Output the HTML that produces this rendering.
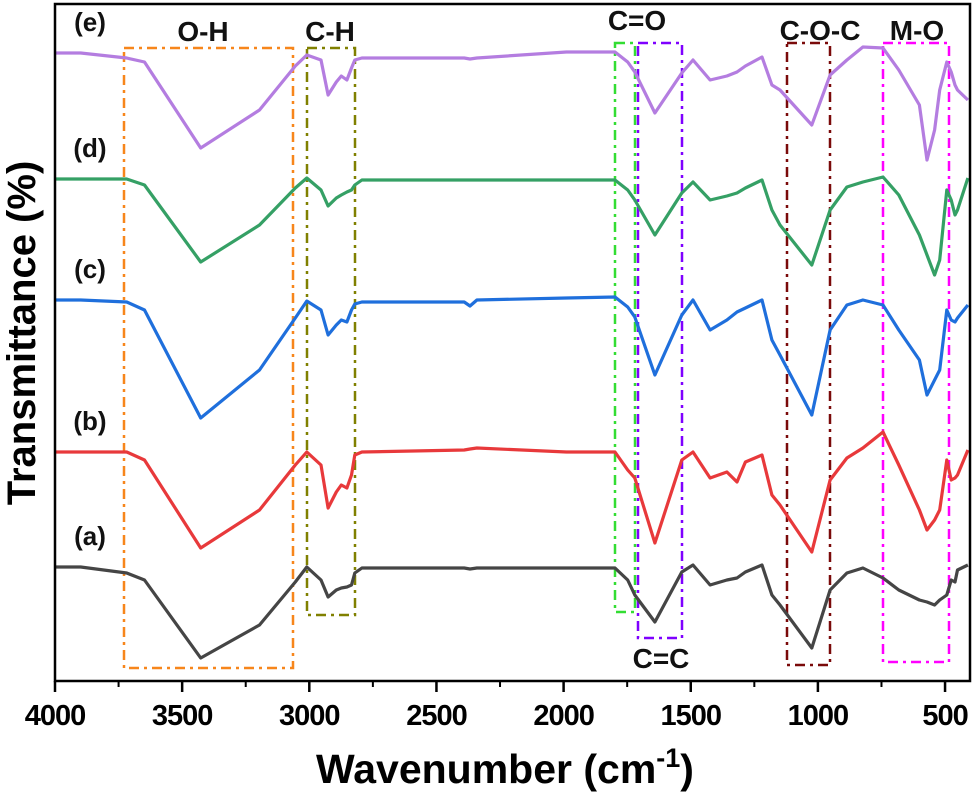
<!DOCTYPE html>
<html><head><meta charset="utf-8"><style>
html,body{margin:0;padding:0;background:#fff;}
svg{display:block;font-family:"Liberation Sans",Arial,sans-serif;font-weight:bold;}
</style></head><body>
<svg id="chart" width="975" height="795" viewBox="0 0 975 795">
<g id="boxes"></g><g id="series"></g><g id="axes"></g><g id="labels"></g>
</svg>
<script>
const wavenumbers = [4000,3899,3718,3648,3427,3196,3055,3010,2954,2926,2894,2874,2852,2834,2821,2793,2391,2368,2341,1989,1798,1748,1720,1641,1535,1491,1424,1358,1318,1285,1220,1181,1149,1024,952,886,823,744,682,601,571,541,521,493,476,461,451,410];
const seriesE = [627,627,622,618,532,570,614,625,620,585,598,604,600,612,620,622,622,621,622,628,628,618,608,567,607,620,600,604,608,614,623,595,590,555,605,620,633,632,610,575,520,550,590,618,608,595,590,580];
const seriesD = [501,501,501,495,418,455,492,502,490,474,482,485,488,490,495,500,500,500,500,500,500,490,480,445,487,498,480,484,487,492,500,470,455,415,470,493,498,503,485,445,425,405,420,490,480,465,470,502];
const seriesC = [380,380,378,370,262,310,362,379,370,345,355,360,358,370,376,378,378,374,380,382,383,373,363,305,365,380,350,360,368,372,380,340,325,265,350,375,380,375,350,320,285,300,310,370,360,358,362,375];
const seriesB = [228,228,228,220,132,170,215,228,215,172,188,195,192,205,225,228,230,231,232,228,228,210,202,137,220,228,202,208,198,218,225,185,175,128,200,222,232,248,215,170,150,160,170,220,200,202,205,230];
const seriesA = [113,113,107,100,22,55,98,113,100,83,90,92,93,95,107,112,112,111,112,112,112,100,85,58,108,115,95,100,102,108,115,85,75,32,90,107,112,102,90,80,78,75,80,85,100,98,110,115];
const seriesColors = ["#b47de0","#35a065","#1f6fdc","#e8393b","#454545"];
const seriesLabels = ["(e)","(d)","(c)","(b)","(a)"];
const xTicks = [4000,3500,3000,2500,2000,1500,1000,500];
const xMinor = [3750,3250,2750,2250,1750,1250,750];

const L=55,R=970,T=4,B=681;
const xs = w => L + (4000-w)*0.2543;
const ys = v => 680 - v;
const NS="http://www.w3.org/2000/svg";
function mk(tag,attrs,parent){const e=document.createElementNS(NS,tag);for(const k in attrs)e.setAttribute(k,attrs[k]);parent.appendChild(e);return e;}

const gS=document.getElementById('series');
[seriesE,seriesD,seriesC,seriesB,seriesA].forEach((s,i)=>{
  const pts=s.map((v,j)=>xs(wavenumbers[j]).toFixed(1)+","+ys(v).toFixed(1)).join(" ");
  const p=mk('polyline',{points:pts,fill:'none',stroke:seriesColors[i],'stroke-width':3.2,'stroke-linejoin':'round'},gS);
  
  
  const t=mk('text',{x:90,y:ys(s[0])-22,'font-size':26,'text-anchor':'middle',fill:'#111'},gS);
  t.textContent=seriesLabels[i];
  
  
});

const gB=document.getElementById('boxes');
const boxes=[
 {n:'oh',x1:124,x2:293,y1:48,y2:668,c:'#f7861b',l:'O-H',lx:203,ly:41},
 {n:'ch',x1:307,x2:355,y1:48,y2:615,c:'#808000',l:'C-H',lx:330,ly:41},
 {n:'co',x1:615,x2:635,y1:43,y2:612,c:'#33dd33',l:'C=O',lx:637,ly:30},
 {n:'cc',x1:638,x2:682,y1:43,y2:638,c:'#7f00ff',l:'C=C',lx:661,ly:668},
 {n:'coc',x1:787,x2:830,y1:43,y2:665,c:'#7a0a0a',l:'C-O-C',lx:820,ly:40},
 {n:'mo',x1:883,x2:949,y1:43,y2:662,c:'#ff00ff',l:'M-O',lx:917,ly:40}];
boxes.forEach(b=>{
  const r=mk('rect',{x:b.x1,y:b.y1,width:b.x2-b.x1,height:b.y2-b.y1,fill:'none',stroke:b.c,'stroke-width':2.5,'stroke-dasharray':'10 5 3 5'},gB);
  
  
  const t=mk('text',{x:b.lx,y:b.ly,'font-size':28,'text-anchor':'middle',fill:'#111'},document.getElementById('labels'));
  t.textContent=b.l;
  
  
});

const gA=document.getElementById('axes');
const fr=mk('rect',{x:L,y:T,width:R-L,height:B-T,fill:'none',stroke:'#000','stroke-width':2.5},gA);


xTicks.forEach(w=>{
  mk('line',{x1:xs(w),x2:xs(w),y1:B,y2:B+11,stroke:'#000','stroke-width':2.5},gA);
  const t=mk('text',{x:xs(w),y:725,'font-size':29,'text-anchor':'middle',fill:'#000','letter-spacing':'-1'},gA);
  t.textContent=w;
  
  
});
xMinor.forEach(w=>mk('line',{x1:xs(w),x2:xs(w),y1:B,y2:B+6,stroke:'#000','stroke-width':2},gA));

(function(){
 const svg=document.getElementById('chart');
 const t=document.createElementNS(NS,'text');
 t.setAttribute('x','505');t.setAttribute('y','783');t.setAttribute('font-size','41');t.setAttribute('text-anchor','middle');
 
 
 t.innerHTML='Wavenumber (cm<tspan dy="-16" font-size="27">-1</tspan><tspan dy="16">)</tspan>';
 svg.appendChild(t);
 const y=document.createElementNS(NS,'text');
 y.setAttribute('transform','translate(35,333) rotate(-90)');y.setAttribute('font-size','40');y.setAttribute('text-anchor','middle');
 
 
 y.textContent='Transmittance (%)';
 svg.appendChild(y);
})();
</script>
</body></html>
